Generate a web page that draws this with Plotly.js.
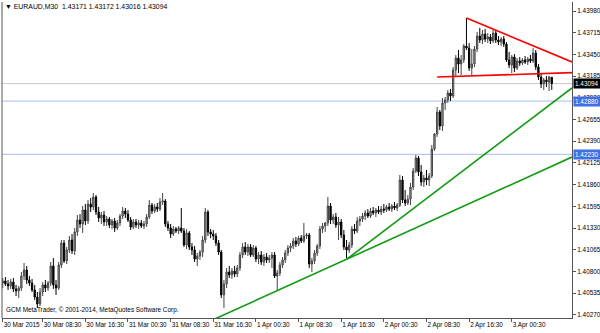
<!DOCTYPE html>
<html><head><meta charset="utf-8">
<script src="https://cdn.plot.ly/plotly-3.0.1.min.js"></script>
<style>html,body{margin:0;padding:0;background:#fff}#chart{width:600px;height:333px}</style>
</head><body><div id="chart"></div>
<script>
const symbolName = 'EURAUD,M30';
const lastQuote = [1.43171, 1.43172, 1.43016, 1.43094];
const firstBar = 2;

const openP = [
1.40659,1.40684,1.40647,1.40623,1.40671,1.40586,1.40562,1.40598,1.40744,1.40818,
1.40696,1.40659,1.40574,1.40488,1.40403,1.40549,1.40635,1.40598,1.40659,1.40867,
1.40635,1.40598,1.40879,1.41147,1.40928,1.41062,1.41184,1.41050,1.41282,1.41428,
1.41379,1.41550,1.41416,1.41623,1.41587,1.41709,1.41526,1.41453,1.41489,1.41404,
1.41440,1.41367,1.41416,1.41331,1.41392,1.41477,1.41538,1.41501,1.41428,1.41343,
1.41404,1.41367,1.41392,1.41355,1.41379,1.41465,1.41611,1.41538,1.41587,1.41562,
1.41648,1.41660,1.41379,1.41331,1.41257,1.41318,1.41294,1.41331,1.41294,1.41123,
1.41270,1.41099,1.41062,1.40952,1.40989,1.41037,1.41184,1.41526,1.41282,1.41257,
1.41233,1.41147,1.41037,1.40513,1.40647,1.40793,1.40757,1.40806,1.40769,1.40842,
1.41001,1.41099,1.41037,1.41099,1.41001,1.41086,1.40952,1.41001,1.40915,1.40976,
1.40940,1.40964,1.41001,1.40744,1.40781,1.40879,1.40940,1.41025,1.41086,1.41111,1.41172,
1.41135,1.41208,1.41172,1.41233,1.41245,1.40891,1.40928,1.41025,1.41111,1.41318,
1.41355,1.41392,1.41599,1.41428,1.41465,1.41367,1.41404,1.41245,1.41099,1.41062,
1.41123,1.41318,1.41294,1.41416,1.41440,1.41477,1.41514,1.41477,1.41538,1.41514,
1.41550,1.41526,1.41562,1.41550,1.41587,1.41562,1.41599,1.41575,1.41611,1.41917,
1.41672,1.41636,1.41684,1.41831,1.42026,1.42185,1.42014,1.41892,1.41941,1.41917,
1.41965,1.42295,1.42478,1.42747,1.42576,1.42857,1.42893,1.42979,1.42942,1.43260,
1.43406,1.43333,1.43382,1.43553,1.43528,1.43284,1.43333,1.43516,1.43675,1.43626,
1.43699,1.43638,1.43663,1.43614,1.43711,1.43626,1.43602,1.43638,1.43577,1.43382,
1.43321,1.43419,1.43284,1.43370,1.43345,1.43382,1.43358,1.43394,1.43370,1.43467,
1.43296,1.43174,1.43089,1.43138,1.43113,1.43171];

const highP = [
1.40720,1.40732,1.40696,1.40708,1.40720,1.40635,1.40623,1.40793,1.40903,1.40867,
1.40744,1.40708,1.40635,1.40549,1.40598,1.40671,1.40696,1.40684,1.40915,1.40964,
1.40696,1.40915,1.41184,1.41184,1.41099,1.41233,1.41257,1.41331,1.41489,1.41501,
1.41599,1.41623,1.41672,1.41697,1.41758,1.41733,1.41587,1.41526,1.41538,1.41477,
1.41465,1.41440,1.41453,1.41428,1.41501,1.41587,1.41575,1.41550,1.41465,1.41440,
1.41440,1.41428,1.41428,1.41416,1.41501,1.41672,1.41636,1.41623,1.41636,1.41697,
1.41758,1.41684,1.41416,1.41379,1.41355,1.41343,1.41355,1.41575,1.41331,1.41318,
1.41294,1.41147,1.41111,1.41025,1.41062,1.41233,1.41575,1.41550,1.41318,1.41306,
1.41270,1.41184,1.41062,1.40696,1.40842,1.40867,1.40842,1.40867,1.40879,1.41037,
1.41147,1.41160,1.41135,1.41135,1.41123,1.41111,1.41037,1.41050,1.41013,1.41025,
1.41001,1.41037,1.41037,1.40818,1.40915,1.40976,1.41062,1.41123,1.41147,1.41208,1.41221,
1.41233,1.41245,1.41392,1.41270,1.41270,1.40964,1.41062,1.41135,1.41355,1.41392,
1.41404,1.41709,1.41636,1.41501,1.41514,1.41465,1.41440,1.41306,1.41184,1.41160,
1.41355,1.41379,1.41465,1.41477,1.41514,1.41550,1.41562,1.41575,1.41587,1.41575,
1.41599,1.41599,1.41623,1.41611,1.41636,1.41623,1.41648,1.41636,1.41978,1.41965,
1.41795,1.41733,1.41880,1.42063,1.42222,1.42210,1.42100,1.41978,1.42039,1.42002,
1.42344,1.42490,1.42808,1.42771,1.42918,1.42930,1.43016,1.43028,1.43296,1.43443,
1.43504,1.43443,1.43577,1.43895,1.43589,1.43516,1.43553,1.43724,1.43773,1.43748,
1.43760,1.43711,1.43699,1.43748,1.43736,1.43675,1.43663,1.43675,1.43602,1.43480,
1.43443,1.43455,1.43406,1.43419,1.43406,1.43431,1.43419,1.43443,1.43528,1.43504,
1.43333,1.43211,1.43162,1.43187,1.43187,1.43172];

const lowP = [
1.40598,1.40623,1.40574,1.40586,1.40549,1.40500,1.40476,1.40562,1.40696,1.40647,
1.40623,1.40549,1.40452,1.40354,1.40378,1.40500,1.40549,1.40562,1.40623,1.40586,
1.40513,1.40574,1.40842,1.40903,1.40891,1.41025,1.41013,1.41001,1.41233,1.41331,
1.41270,1.41367,1.41379,1.41526,1.41550,1.41489,1.41404,1.41379,1.41355,1.41355,
1.41331,1.41318,1.41282,1.41306,1.41355,1.41440,1.41453,1.41404,1.41306,1.41318,
1.41331,1.41318,1.41331,1.41318,1.41343,1.41440,1.41501,1.41514,1.41526,1.41538,
1.41611,1.41343,1.41294,1.41208,1.41233,1.41270,1.41257,1.41270,1.41099,1.41074,
1.41062,1.41001,1.40915,1.40867,1.40940,1.40976,1.41147,1.41233,1.41208,1.41184,
1.41111,1.41001,1.40476,1.40354,1.40598,1.40720,1.40708,1.40732,1.40732,1.40806,
1.40964,1.41001,1.40989,1.40976,1.40976,1.40915,1.40891,1.40879,1.40867,1.40903,
1.40903,1.40842,1.40720,1.40574,1.40744,1.40842,1.40903,1.40989,1.41037,1.41074,1.41099,
1.41111,1.41147,1.41147,1.41196,1.40842,1.40793,1.40891,1.40989,1.41074,1.41270,
1.41282,1.41355,1.41379,1.41379,1.41331,1.41184,1.41208,1.41062,1.40964,1.41025,
1.41086,1.41257,1.41270,1.41355,1.41404,1.41428,1.41453,1.41453,1.41489,1.41465,
1.41501,1.41489,1.41514,1.41526,1.41538,1.41526,1.41550,1.41538,1.41587,1.41636,
1.41599,1.41611,1.41611,1.41795,1.42002,1.41965,1.41843,1.41831,1.41855,1.41843,
1.41941,1.42271,1.42442,1.42527,1.42515,1.42771,1.42857,1.42881,1.42918,1.43187,
1.43223,1.43199,1.43345,1.43504,1.43248,1.43199,1.43296,1.43480,1.43589,1.43577,
1.43602,1.43589,1.43577,1.43589,1.43589,1.43565,1.43553,1.43541,1.43358,1.43284,
1.43223,1.43235,1.43260,1.43309,1.43321,1.43333,1.43321,1.43345,1.43345,1.43260,
1.43138,1.43040,1.43016,1.43052,1.43003,1.43016];

const closeP = [
1.40684,1.40647,1.40623,1.40671,1.40586,1.40562,1.40598,1.40744,1.40818,1.40696,
1.40659,1.40574,1.40488,1.40403,1.40549,1.40635,1.40598,1.40659,1.40867,1.40635,
1.40598,1.40879,1.41147,1.40928,1.41062,1.41184,1.41050,1.41282,1.41428,1.41379,
1.41550,1.41416,1.41623,1.41587,1.41709,1.41526,1.41453,1.41489,1.41404,1.41440,
1.41367,1.41416,1.41331,1.41392,1.41477,1.41538,1.41501,1.41428,1.41343,1.41404,
1.41367,1.41392,1.41355,1.41379,1.41465,1.41611,1.41538,1.41587,1.41562,1.41648,
1.41660,1.41379,1.41331,1.41257,1.41318,1.41294,1.41331,1.41294,1.41123,1.41270,
1.41099,1.41062,1.40952,1.40989,1.41037,1.41184,1.41526,1.41282,1.41257,1.41233,
1.41147,1.41037,1.40513,1.40647,1.40793,1.40757,1.40806,1.40769,1.40842,1.41001,
1.41099,1.41037,1.41099,1.41001,1.41086,1.40952,1.41001,1.40915,1.40976,1.40940,
1.40964,1.41001,1.40744,1.40781,1.40879,1.40940,1.41025,1.41086,1.41111,1.41172,1.41135,
1.41208,1.41172,1.41233,1.41245,1.40891,1.40928,1.41025,1.41111,1.41318,1.41355,
1.41392,1.41599,1.41428,1.41465,1.41367,1.41404,1.41245,1.41099,1.41062,1.41123,
1.41318,1.41294,1.41416,1.41440,1.41477,1.41514,1.41477,1.41538,1.41514,1.41550,
1.41526,1.41562,1.41550,1.41587,1.41562,1.41599,1.41575,1.41611,1.41917,1.41672,
1.41636,1.41684,1.41831,1.42026,1.42185,1.42014,1.41892,1.41941,1.41917,1.41965,
1.42295,1.42478,1.42747,1.42576,1.42857,1.42893,1.42979,1.42942,1.43260,1.43406,
1.43333,1.43382,1.43553,1.43528,1.43284,1.43333,1.43516,1.43675,1.43626,1.43699,
1.43638,1.43663,1.43614,1.43711,1.43626,1.43602,1.43638,1.43577,1.43382,1.43321,
1.43419,1.43284,1.43370,1.43345,1.43382,1.43358,1.43394,1.43370,1.43467,1.43296,
1.43174,1.43089,1.43138,1.43113,1.43174,1.43094];

const timeTickBars = [2,17,33,49,65,81,97,113,129,145,161,177,193];
const timeTickLabels = ['30 Mar 2015','30 Mar 08:30','30 Mar 16:30','31 Mar 00:30','31 Mar 08:30',
  '31 Mar 16:30','1 Apr 00:30','1 Apr 08:30','1 Apr 16:30','2 Apr 00:30','2 Apr 08:30','2 Apr 16:30','3 Apr 00:30'];
const priceTicks = [1.40270,1.40535,1.40800,1.41065,1.41330,1.41595,1.41860,1.42125,1.42390,1.42655,1.42920,1.43185,1.43450,1.43715,1.43980];
const levelLines = [1.42880, 1.42230];
const bidLine = 1.43094;

const redTopBars = [176, 211.1], redTopPrices = [1.43895, 1.43419];
const redLowBars = [165, 211.1], redLowPrices = [1.43174, 1.43223];
const greenLowBars = [131.2, 215.6], greenLowPrices = [1.40952, 1.42197];
const greenSteepBars = [131.2, 211.1], greenSteepPrices = [1.40952, 1.42930];

const xRange = [1.726, 215.6];
const yRange = [1.402316, 1.440900];

const xs = openP.map((_, k) => firstBar + k);
const FONT = 'Liberation Sans, Arial, sans-serif';

function lineAt(bars, prices, b) {
  return prices[0] + (prices[1] - prices[0]) * (b - bars[0]) / (bars[1] - bars[0]);
}
function trend(bars, prices, startBar, color) {
  const endBar = xRange[1];
  return {type:'line', xref:'x', yref:'y', layer:'above',
    x0:startBar, y0:lineAt(bars, prices, startBar), x1:endBar, y1:lineAt(bars, prices, endBar),
    line:{color:color, width:1.6}};
}

const shapes = [];
levelLines.forEach(p => shapes.push({type:'line', xref:'paper', yref:'y', x0:0, x1:1, y0:p, y1:p, layer:'below', line:{color:'#a8bcf2', width:1}}));
shapes.push({type:'line', xref:'paper', yref:'y', x0:0, x1:1, y0:bidLine, y1:bidLine, layer:'below', line:{color:'#c8c8c8', width:1}});
shapes.push(trend(redTopBars, redTopPrices, redTopBars[0], '#ff0000'));
shapes.push(trend(redLowBars, redLowPrices, redLowBars[0], '#ff0000'));
shapes.push(trend(greenLowBars, greenLowPrices, 80.5, '#119b11'));
shapes.push(trend(greenSteepBars, greenSteepPrices, greenSteepBars[0], '#119b11'));
shapes.push({type:'line', xref:'paper', yref:'paper', x0:0, x1:0, y0:0, y1:1, line:{color:'#555', width:1}});

const annotations = [];
annotations.push({xref:'paper', yref:'paper', x:0, y:1, xanchor:'left', yanchor:'top', xshift:1, yshift:1,
  showarrow:false, align:'left', font:{family:FONT, size:6.9, color:'#000'},
  text:'▼ ' + symbolName + '  ' + lastQuote.map(v => v.toFixed(5)).join(' ')});
annotations.push({xref:'paper', yref:'paper', x:0, y:0, xanchor:'left', yanchor:'bottom', xshift:2, yshift:2,
  showarrow:false, font:{family:FONT, size:6.4, color:'#000'},
  text:'GCM MetaTrader, © 2001-2014, MetaQuotes Software Corp.'});
levelLines.forEach(p => annotations.push({xref:'paper', yref:'y', x:1, y:p, xanchor:'left', yanchor:'middle', xshift:1,
  showarrow:false, text:p.toFixed(5), bgcolor:'#3f6fe0', borderpad:1, font:{family:FONT, size:6.4, color:'#fff'}}));
annotations.push({xref:'paper', yref:'y', x:1, y:bidLine, xanchor:'left', yanchor:'middle', xshift:1,
  showarrow:false, text:bidLine.toFixed(5), bgcolor:'#000', borderpad:1, font:{family:FONT, size:6.4, color:'#fff'}});

const trace = {
  type:'candlestick', x:xs, open:openP, high:highP, low:lowP, close:closeP,
  increasing:{line:{color:'#444', width:1}, fillcolor:'#a9a9a9'},
  decreasing:{line:{color:'#000', width:1}, fillcolor:'#000'},
  whiskerwidth:0, hoverinfo:'skip'
};

const layout = {
  width:600, height:333,
  margin:{l:2, r:28, t:2, b:15},
  paper_bgcolor:'#fff', plot_bgcolor:'#fff',
  showlegend:false,
  xaxis:{type:'linear', range:xRange, showgrid:false, zeroline:false, automargin:false,
    showline:true, linecolor:'#555', linewidth:1,
    tickmode:'array', tickvals:timeTickBars, ticktext:timeTickLabels, tickangle:0,
    ticks:'outside', ticklen:3, tickcolor:'#555', ticklabelposition:'outside right',
    tickfont:{family:FONT, size:6.4, color:'#000'},
    rangeslider:{visible:false}, fixedrange:true},
  yaxis:{range:yRange, side:'right', showgrid:false, zeroline:false, automargin:false,
    showline:true, linecolor:'#555', linewidth:1,
    tickmode:'array', tickvals:priceTicks, ticktext:priceTicks.map(v => v.toFixed(5)),
    ticks:'outside', ticklen:3, tickcolor:'#555',
    tickfont:{family:FONT, size:6.4, color:'#000'}, fixedrange:true},
  shapes:shapes,
  annotations:annotations
};

Plotly.newPlot('chart', [trace], layout, {staticPlot:true, displayModeBar:false});
</script></body></html>
